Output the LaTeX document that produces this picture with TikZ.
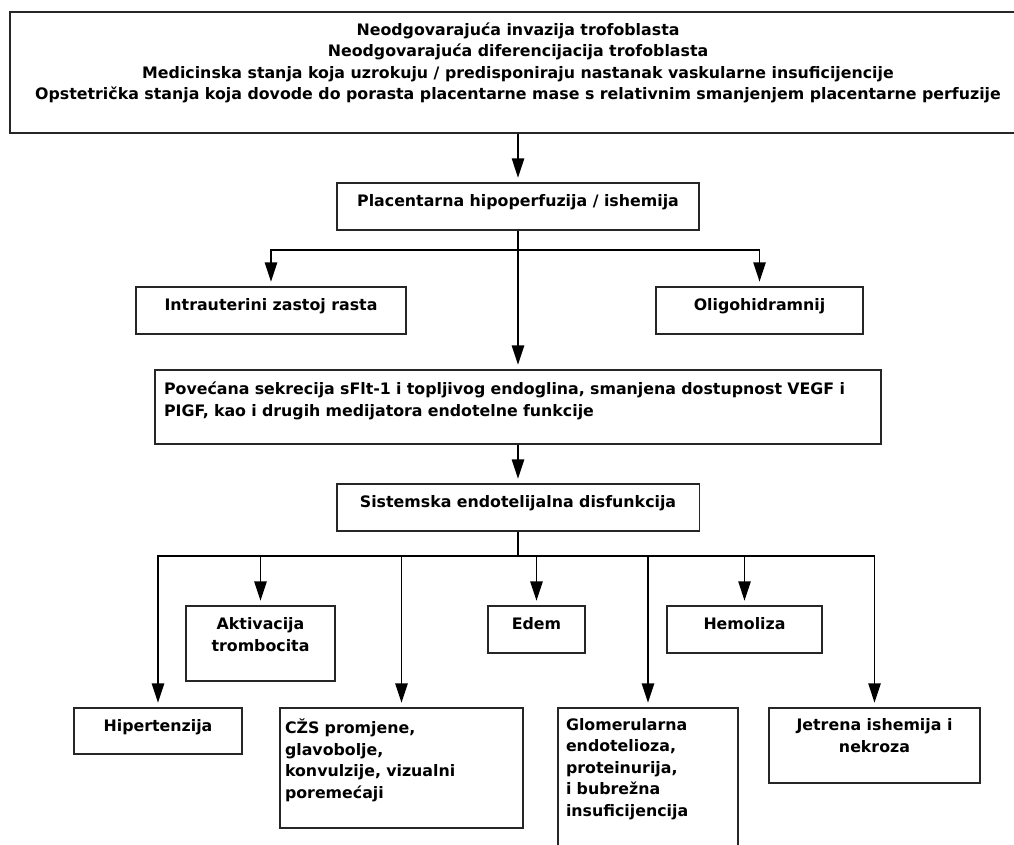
\documentclass[tikz,border=0pt]{standalone}
\usepackage{fontspec}
\setmainfont{DejaVu Sans}
\usetikzlibrary{arrows.meta}
\newcommand{\lift}[1]{\rule[-#1]{0pt}{#1}}

\begin{document}
\begin{tikzpicture}[x=0.02cm,y=-0.02cm,
    box/.style={draw=black!85,line width=1.1pt,minimum height=0.94cm,inner sep=0pt,align=center,
      font=\bfseries\fontsize{9}{12.3}\selectfont},
    arrow/.style={line width=1pt,-{Triangle[length=11pt,width=7pt]},shorten >=2.5pt}]
    \useasboundingbox (0,0) rectangle (1014,845);
    % uzroci i placenta
    \node[box,minimum width=20.32cm,minimum height=2.42cm] (cause) at (518,72.5) {Neodgovarajuća invazija trofoblasta\\
        Neodgovarajuća diferencijacija trofoblasta\\
        Medicinska stanja koja uzrokuju / predisponiraju nastanak vaskularne insuficijencije\\
        Opstetrička stanja koja dovode do porasta placentarne mase s relativnim smanjenjem placentarne perfuzije\lift{12.9pt}};
    \node[box,minimum width=7.24cm] (placenta) at (518,206.5) {Placentarna hipoperfuzija / ishemija\lift{6.6pt}};
    \node[box,minimum width=5.4cm] (iugr) at (271,310.5) {Intrauterini zastoj rasta\lift{6.6pt}};
    \node[box,minimum width=4.14cm] (oligo) at (759.5,310.5) {Oligohidramnij\lift{6.6pt}};
    \node[box,minimum width=14.52cm,minimum height=1.48cm,text width=14.16cm,align=left] (secretion) at (518,407)
        {Povećana sekrecija sFlt-1 i topljivog endoglina, smanjena dostupnost VEGF i\\
        PIGF, kao i drugih medijatora endotelne funkcije\lift{8.9pt}};
    \node[box,minimum width=7.26cm] (systemic) at (518,507.5) {Sistemska endotelijalna disfunkcija\lift{6.6pt}};
    % posljedice
    \node[box,minimum width=3.36cm,minimum height=0.92cm] (hyper) at (158,731) {Hipertenzija\lift{6.6pt}};
    \node[box,minimum width=2.98cm,minimum height=1.5cm] (platelet) at (260.5,643.5) {Aktivacija\\ trombocita\lift{10.1pt}};
    \node[box,minimum width=4.86cm,minimum height=2.4cm,text width=4.66cm,align=left] (cns) at (401.5,768)
        {CŽS promjene,\\ glavobolje,\\ konvulzije, vizualni\\ poremećaji\lift{10.6pt}};
    \node[box,minimum width=1.94cm] (edema) at (536.5,629.5) {Edem\lift{6.6pt}};
    \node[box,minimum width=3.6cm,minimum height=3.04cm,text width=3.28cm,align=left] (glom) at (648,784)
        {Glomerularna\\ endotelioza,\\ proteinurija,\\ i bubrežna\\ insuficijencija\lift{19.1pt}};
    \node[box,minimum width=3.1cm] (hemo) at (744.5,629.5) {Hemoliza\lift{6.6pt}};
    \node[box,minimum width=4.22cm,minimum height=1.5cm] (liver) at (874.5,745.5) {Jetrena ishemija i\\ nekroza\lift{11.1pt}};
    % strelice
    \draw[arrow] (cause.south -| placenta.north) -- (placenta);
    \draw[arrow] (placenta) -- (secretion);
    \coordinate (fork) at (518,250);
    \draw[arrow] (fork) -| (iugr);
    \draw[arrow] (fork) -| (oligo);
    \draw[arrow] (secretion) -- (systemic);
    \coordinate (fork2) at (518,556);
    \draw[line width=1pt] (systemic) -- (fork2);
    \foreach \n in {hyper,platelet,cns,edema,glom,hemo,liver}
        \draw[arrow] (fork2) -| (\n);
\end{tikzpicture}
\end{document}
